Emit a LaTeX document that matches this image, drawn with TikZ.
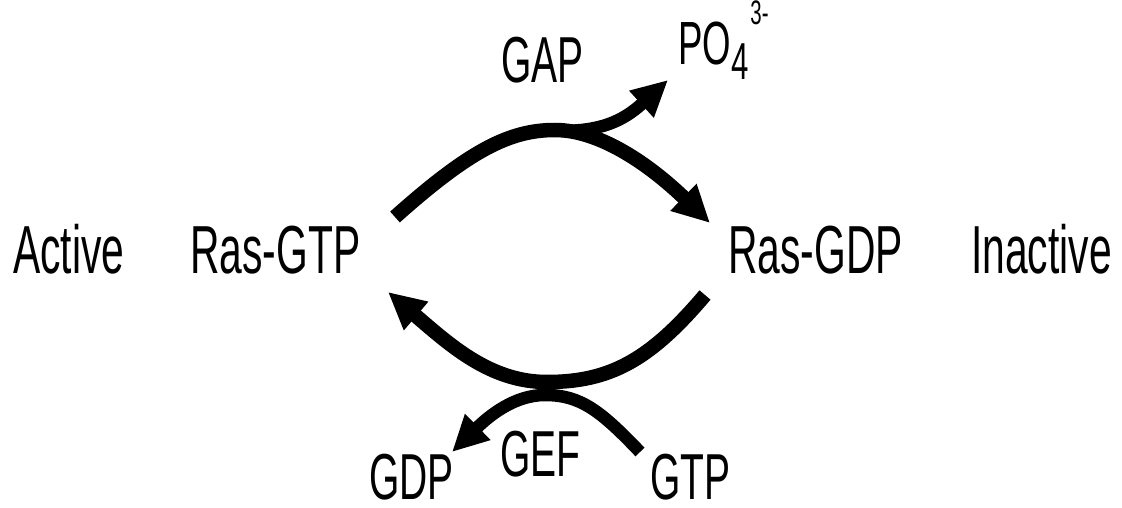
\documentclass[tikz,border=0pt]{standalone}
\usepackage{fontspec}
\setmainfont{Liberation Sans}[FakeStretch=0.6]
\usetikzlibrary{arrows.meta}
\begin{document}
\begin{tikzpicture}[x=1pt,y=-1pt,
  lbl/.style={anchor=base west, inner sep=0pt, text depth=0pt, font=\fontsize{68}{68}\selectfont},
  sml/.style={anchor=base west, inner sep=0pt, text depth=0pt, font=\fontsize{65}{65}\selectfont},
  flow/.style={line width=14.5pt, black, -{Triangle[length=37pt,width=35pt]}},
  branch/.style={line width=12.5pt, black, -{Triangle[length=36pt,width=34pt]}}]
\useasboundingbox (0,0) rectangle (1122,508);
% labels
\node[lbl] (active) at (13,273) {Active};
\node[lbl] (rasgtp) at (190,273) {Ras-GTP};
\node[lbl] (rasgdp) at (728,273) {Ras-GDP};
\node[lbl] (inactive) at (971,273) {Inactive};
\node[sml] (gap) at (501,83) {GAP};
\node[anchor=base west, inner sep=0pt, text depth=0pt, font=\fontsize{61}{61}\selectfont] (po) at (678,65)
  {PO\raisebox{-15pt}{\fontsize{52}{52}\selectfont 4}\hspace{2pt}\raisebox{40pt}{\fontsize{34}{34}\selectfont 3-}};
\node[sml] (gdp) at (369,499) {GDP};
\node[sml] (gef) at (500,476) {GEF};
\node[sml] (gtp) at (650,499) {GTP};
% connector end points
\coordinate (gapstart) at (395,217);
\coordinate (gapmid) at (555,130);
\coordinate (gapend) at (710,223);
\coordinate (postart) at (560,131);
\coordinate (poend) at (668,80);
\coordinate (gefstart) at (705,295);
\coordinate (gefmid) at (547,382);
\coordinate (gefend) at (388,292);
\coordinate (gtpstart) at (640,452);
\coordinate (gtpmid) at (545,395);
\coordinate (gdpend) at (452,452);
% GAP arc: Ras-GTP -> Ras-GDP
\draw[flow] (gapstart) .. controls (470,150) and (510,130) .. (gapmid)
  .. controls (600,130) and (650,165) .. (gapend);
\draw[branch] (postart) .. controls (600,131) and (622,122) .. (poend);
% GEF arc: Ras-GDP -> Ras-GTP
\draw[flow] (gefstart) .. controls (650,360) and (610,382) .. (gefmid)
  .. controls (490,382) and (450,345) .. (gefend);
\draw[branch] (gtpstart) .. controls (600,410) and (580,395) .. (gtpmid)
  .. controls (515,395) and (490,415) .. (gdpend);
\end{tikzpicture}
\end{document}
